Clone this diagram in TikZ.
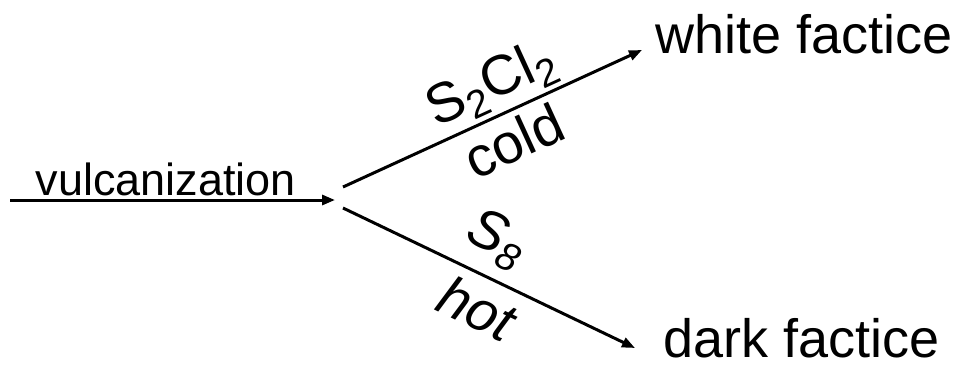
\documentclass[tikz,border=0pt]{standalone}
\usepackage{fontspec}
\setmainfont{Liberation Sans}
\usetikzlibrary{arrows.meta,positioning}

\begin{document}
\begin{tikzpicture}[
  x=0.5pt,y=0.5pt,
  prod/.style={anchor=base west,inner sep=0pt,font=\fontsize{27}{32}\selectfont},
  cond/.style={sloped,font=\fontsize{28}{32}\selectfont},
  arr/.style={-{Triangle[length=6.5pt,width=5pt]},line width=1.5pt}
]
\useasboundingbox (0,0) rectangle (964,366);
\coordinate (feed) at (10,166);
\coordinate (split) at (335,166);
\coordinate (splitup) at (343,179);
\coordinate (splitdown) at (343,158);
\coordinate (upend) at (642,316);
\coordinate (downend) at (635,18);
\node[prod] (white) at (655,313) {white factice};
\node[prod] (dark) at (663,9) {dark factice};
\draw[arr] (feed) -- node[above,pos=0.48,inner sep=1.5pt,font=\fontsize{22.5}{26}\selectfont] (vulc) {vulcanization} (split);
\draw[arr] (splitup) --
  node[cond,above,pos=0.54,inner sep=2pt] (reagup) {S\textsubscript{2}Cl\textsubscript{2}}
  node[cond,below,pos=0.53,inner sep=3.5pt] (tempup) {cold} (upend);
\draw[arr] (splitdown) --
  node[cond,above,pos=0.47,inner sep=6pt] (reagdown) {\textit{S}\textsubscript{\textit{8}}}
  node[cond,below,pos=0.51,inner sep=5pt] (tempdown) {\textit{hot}} (downend);
\end{tikzpicture}
\end{document}
